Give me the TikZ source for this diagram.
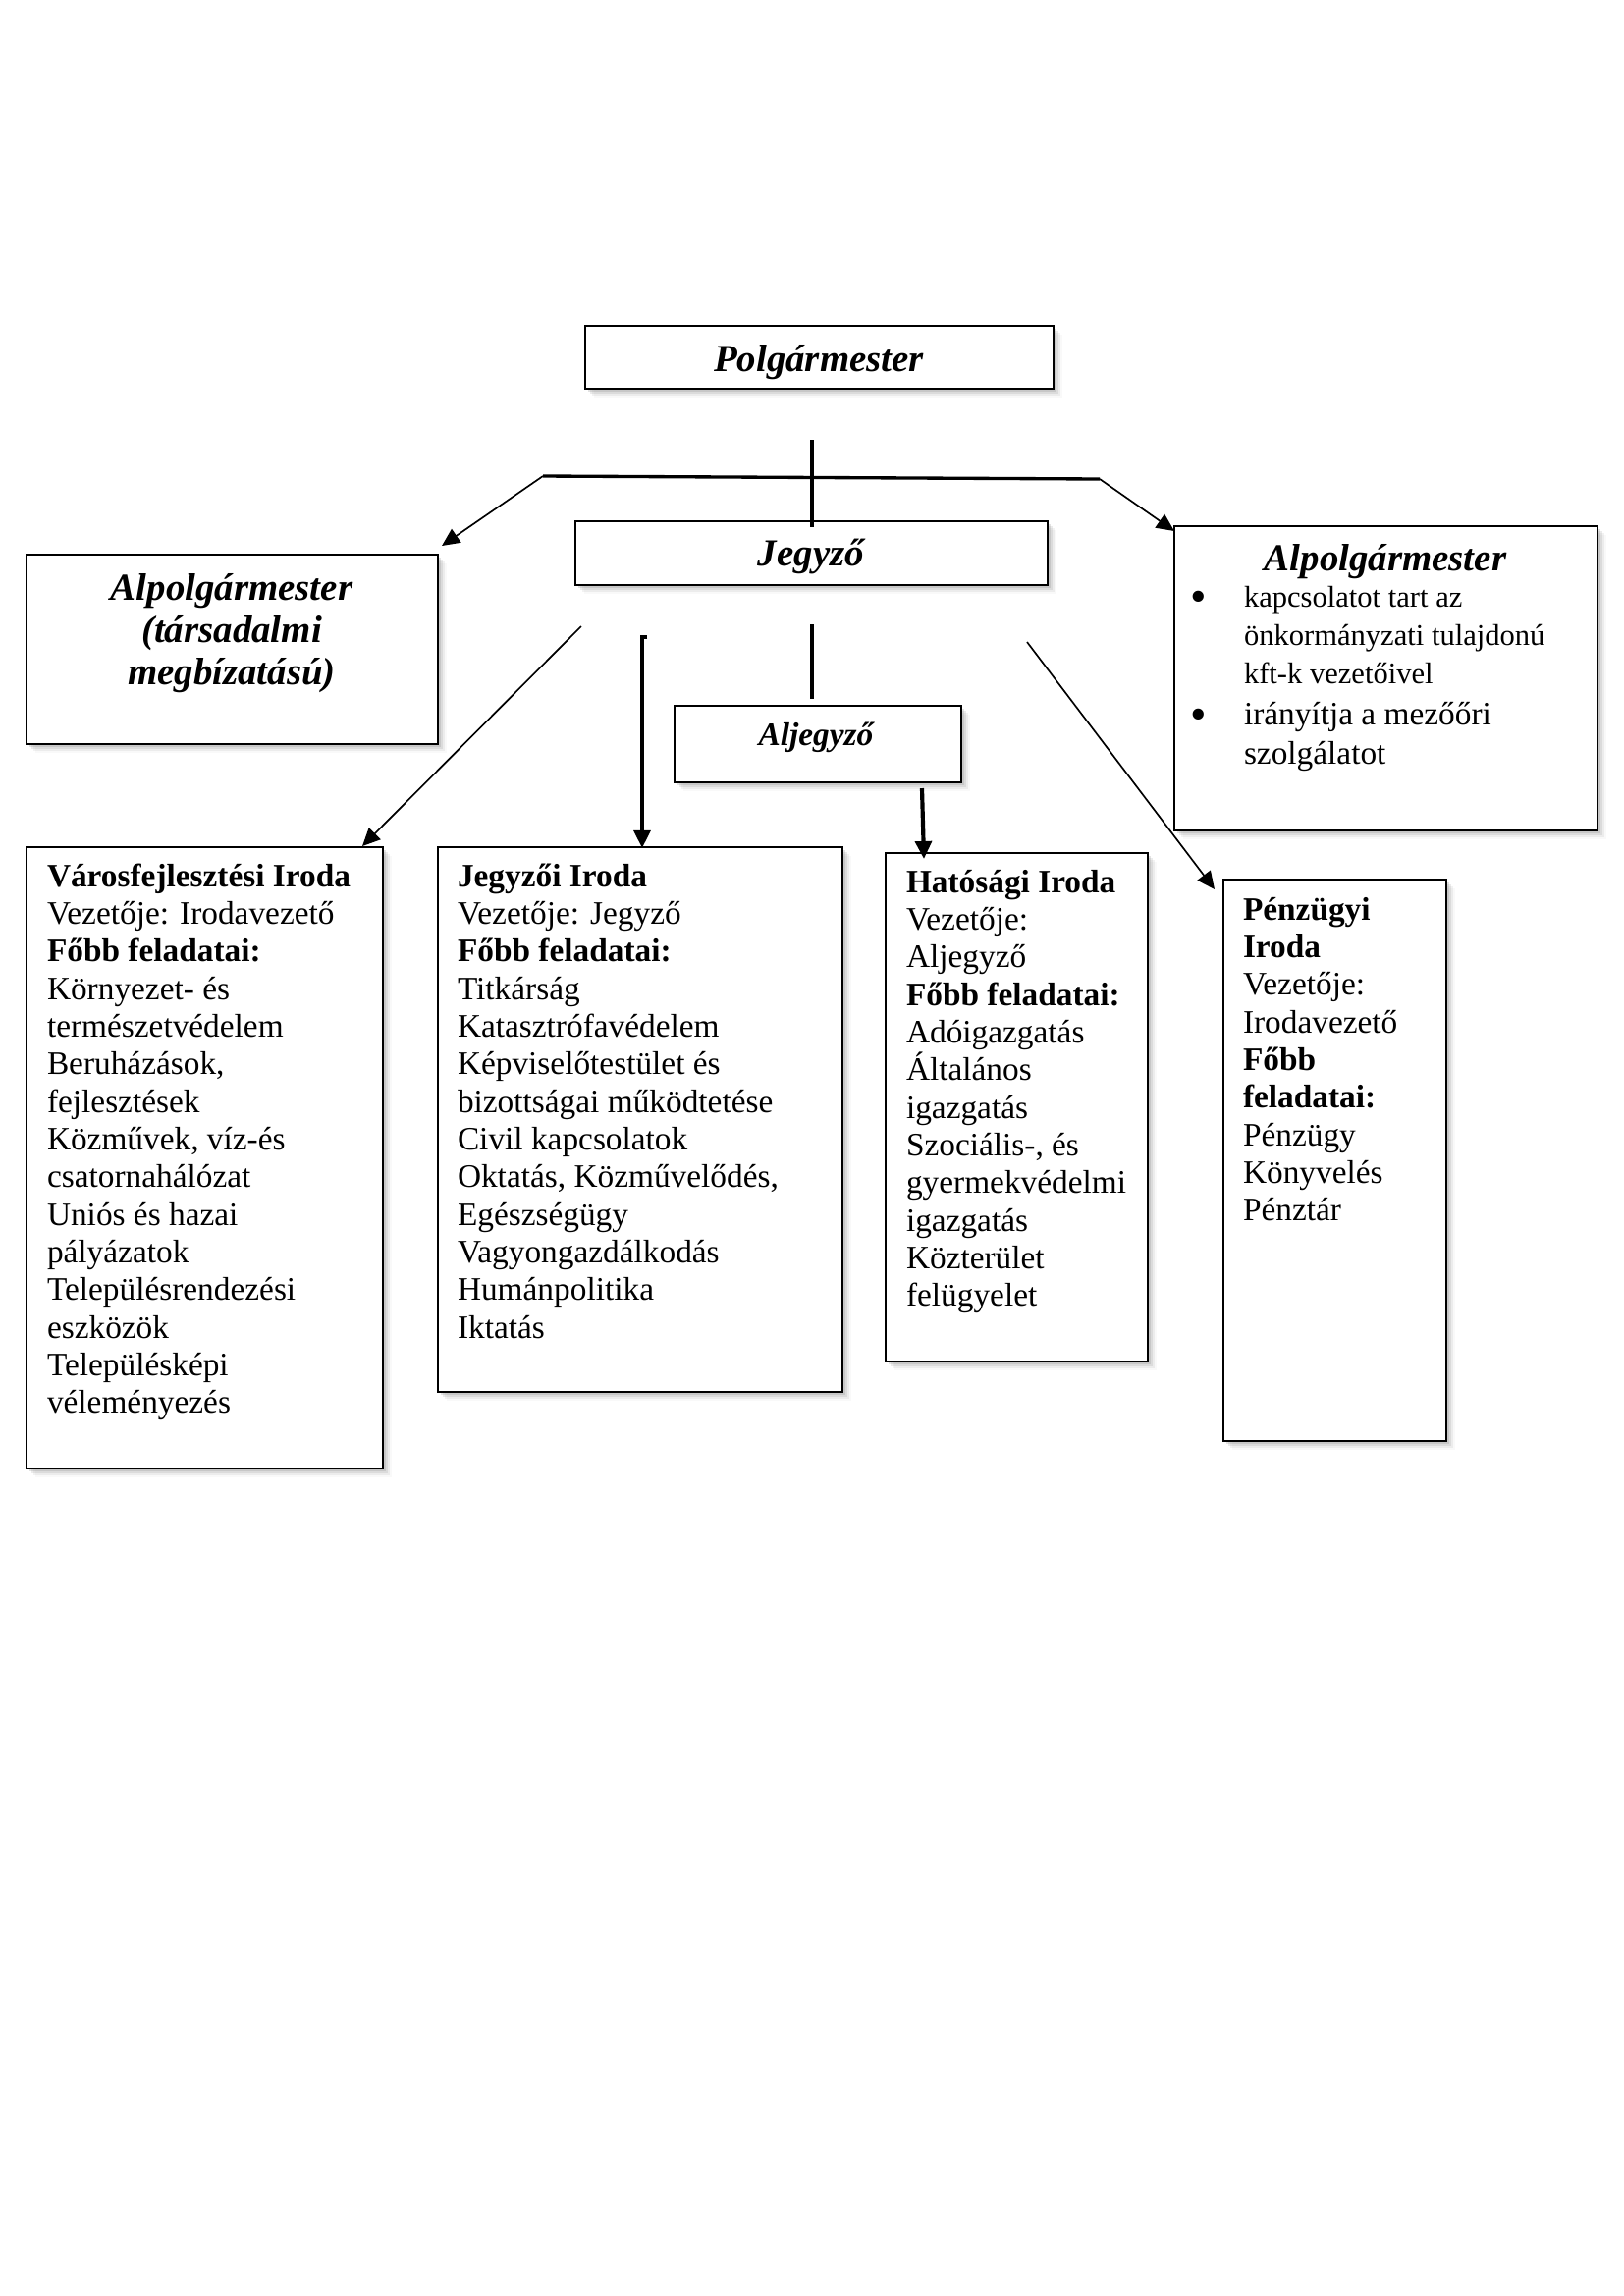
\documentclass[tikz,border=0pt]{standalone}
\usepackage{fontspec}
\setmainfont{Liberation Serif}
\usetikzlibrary{arrows.meta,shadows}
\newcommand\leftlines[2][13.8pt]{\vtop{\baselineskip=#1\lineskiplimit=-\maxdimen\lineskip=0pt\relax\ialign{##\hfil\cr#2\crcr}}}
\newcommand\centerlines[2][15.6pt]{\vtop{\baselineskip=#1\lineskiplimit=-\maxdimen\lineskip=0pt\relax\ialign{\hfil##\hfil\cr#2\crcr}}}
\begin{document}
\begin{tikzpicture}[x=0.3599pt,y=-0.3599pt,
  softshadow/.style={
    drop shadow={shadow xshift=0.9pt,shadow yshift=-0.9pt,opacity=.22},
    drop shadow={shadow xshift=1.7pt,shadow yshift=-1.7pt,opacity=.16},
    drop shadow={shadow xshift=2.5pt,shadow yshift=-2.5pt,opacity=.10},
    drop shadow={shadow xshift=3.3pt,shadow yshift=-3.3pt,opacity=.05}},
  box/.style={draw,line width=1pt,fill=white,inner sep=0pt,outer sep=0pt,anchor=north west,softshadow},
  boxsize/.style 2 args={minimum width=#1*0.3599pt,minimum height=#2*0.3599pt},
  tnode/.style={inner sep=0pt,outer sep=0pt},
  body/.style={tnode,anchor=base west,font=\fontsize{12}{13.8}\selectfont},
  titlefont/.style={tnode,anchor=base,font=\fontsize{14}{16}\selectfont\bfseries\itshape},
  bulletnode/.style={tnode,anchor=center,font=\fontsize{17}{18}\selectfont},
  thinline/.style={line width=0.6pt},
  thickline/.style={line width=1.5pt},
  barline/.style={line width=1.2pt},
  arr/.style={-{Triangle[length=6.5pt,width=6pt]}}
]
\useasboundingbox (0,0) rectangle (1654,2339);

% boxes
\node[box,boxsize={477}{64}] (pm) at (596,332) {};
\node[box,boxsize={481}{65}] (jg) at (586,531) {};
\node[box,boxsize={419}{193}] (alpl) at (27,565) {};
\node[box,boxsize={431}{310}] (alpr) at (1196,536) {};
\node[box,boxsize={292}{78}] (alj) at (687,719) {};
\node[box,boxsize={363}{633}] (varos) at (27,863) {};
\node[box,boxsize={412}{555}] (jiroda) at (446,863) {};
\node[box,boxsize={267}{518}] (hat) at (902,869) {};
\node[box,boxsize={227}{572}] (penz) at (1246,896) {};

% coordinates for connectors
\coordinate (pmstem) at (827,448);
\coordinate (jgstem) at (827,537);
\coordinate (barL) at (553,485);
\coordinate (barR) at (1120,488);
\coordinate (alplTip) at (450,556);
\coordinate (alprTip) at (1196,541);
\coordinate (jgLow) at (827,636);
\coordinate (aljTop) at (827,712);
\coordinate (diagLs) at (592,638);
\coordinate (varosTip) at (369,862);
\coordinate (stubR) at (659,649);
\coordinate (stubL) at (654,649);
\coordinate (jirodaTip) at (654,864);
\coordinate (aljLow) at (939,803);
\coordinate (hatTip) at (941,875);
\coordinate (diagRs) at (1046,654);
\coordinate (penzTip) at (1237,906);

% connectors
\draw[thickline] (pmstem) -- (jgstem);
\draw[barline] (barL) -- (barR);
\draw[thinline,arr] (barL) -- (alplTip);
\draw[thinline,arr] (barR) -- (alprTip);
\draw[thickline] (jgLow) -- (aljTop);
\draw[thinline,arr] (diagLs) -- (varosTip);
\draw[thickline,arr] (stubR) -- (stubL) -- (jirodaTip);
\draw[thickline,arr] (aljLow) -- (hatTip);
\draw[thinline,arr] (diagRs) -- (penzTip);

% titles
\node[titlefont] (pmt) at (834,378) {Polgármester};
\node[titlefont] (jgt) at (826,576) {Jegyző};
\node[titlefont,font=\fontsize{12}{13.8}\selectfont\bfseries\itshape] (aljt) at (831,759) {Aljegyző};
\node[titlefont] (alplt) at (236,611) {\centerlines[15.6pt]{Alpolgármester\cr (társadalmi\cr megbízatású)}};
\node[titlefont] (alprt) at (1411,581) {Alpolgármester};

% right Alpolgármester bullets
\node[bulletnode] (b1) at (1221,613) {\textbullet};
\node[bulletnode] (b2) at (1221,733) {\textbullet};
\node[body,font=\fontsize{11}{14.2}\selectfont] (i1) at (1267,618) {\leftlines[14.2pt]{kapcsolatot tart az\cr önkormányzati tulajdonú\cr kft-k vezetőivel}};
\node[body] (i2) at (1267,738) {\leftlines[14.4pt]{irányítja a mezőőri\cr szolgálatot}};

% office texts
\node[body] (varost) at (48,903) {\leftlines{\textbf{Városfejlesztési Iroda}\cr Vezetője: Irodavezető\cr \textbf{Főbb feladatai:}\cr Környezet- és\cr természetvédelem\cr Beruházások,\cr fejlesztések\cr Közművek, víz-és\cr csatornahálózat\cr Uniós és hazai\cr pályázatok\cr Településrendezési\cr eszközök\cr Településképi\cr véleményezés}};
\node[body] (jirodat) at (466,903) {\leftlines{\textbf{Jegyzői Iroda}\cr Vezetője: Jegyző\cr \textbf{Főbb feladatai:}\cr Titkárság\cr Katasztrófavédelem\cr Képviselőtestület és\cr bizottságai működtetése\cr Civil kapcsolatok\cr Oktatás, Közművelődés,\cr Egészségügy\cr Vagyongazdálkodás\cr Humánpolitika\cr Iktatás}};
\node[body] (hatt) at (923,909) {\leftlines{\textbf{Hatósági Iroda}\cr Vezetője:\cr Aljegyző\cr \textbf{Főbb feladatai:}\cr Adóigazgatás\cr Általános\cr igazgatás\cr Szociális-, és\cr gyermekvédelmi\cr igazgatás\cr Közterület\cr felügyelet}};
\node[body] (penzt) at (1266,937) {\leftlines{\textbf{Pénzügyi}\cr \textbf{Iroda}\cr Vezetője:\cr Irodavezető\cr \textbf{Főbb}\cr \textbf{feladatai:}\cr Pénzügy\cr Könyvelés\cr Pénztár}};
\end{tikzpicture}
\end{document}
